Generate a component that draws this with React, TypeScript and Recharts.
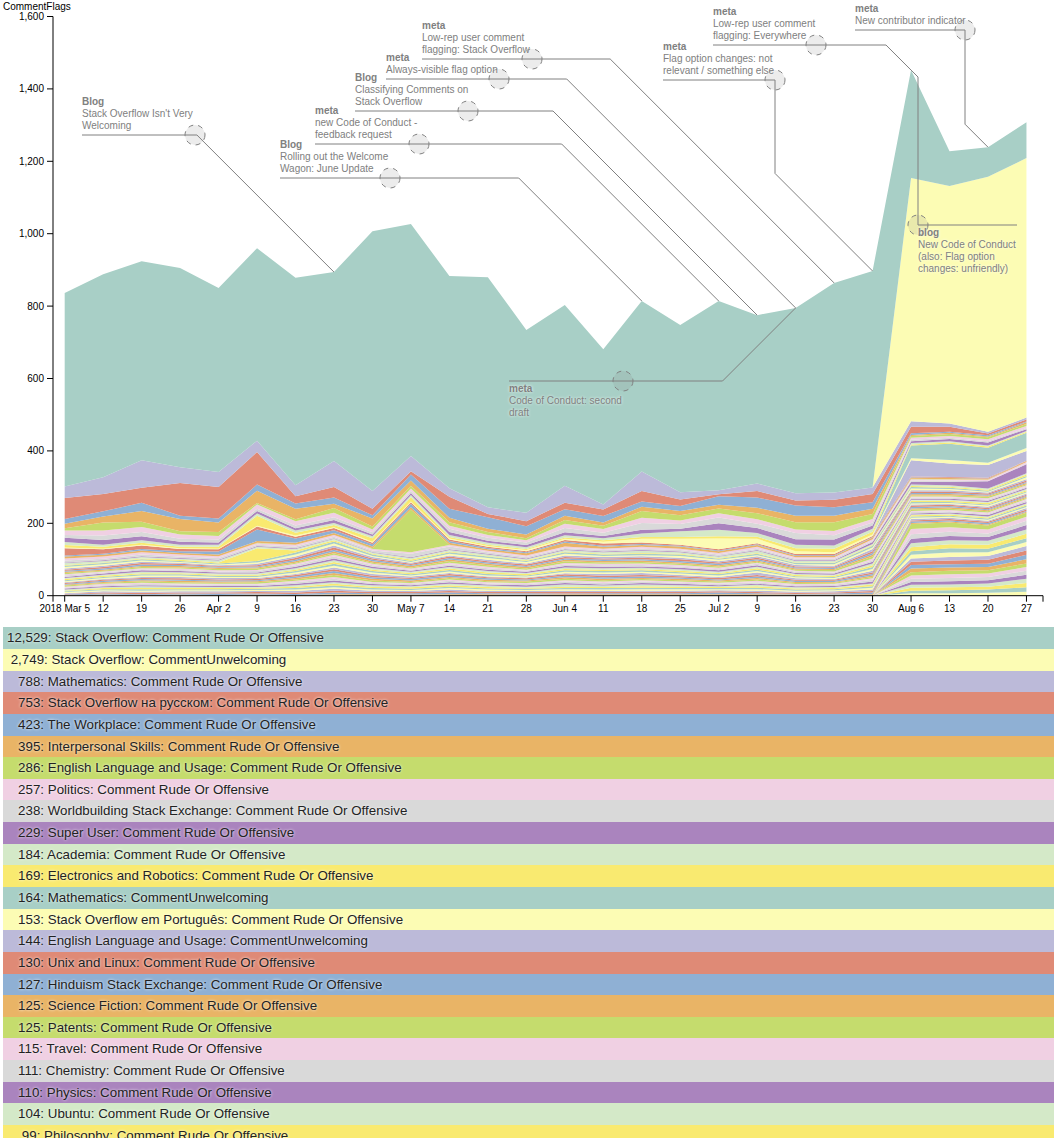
import React from 'react';
import { AreaChart, Area, XAxis, YAxis, ReferenceDot } from 'recharts';

// weekly comment flag counts, 2018-03-05 .. 2018-08-27 (26 weeks)
const weekLabels = ['2018 Mar 5', '12', '19', '26', 'Apr 2', '9', '16', '23', '30', 'May 7', '14', '21', '28',
  'Jun 4', '11', '18', '25', 'Jul 2', '9', '16', '23', '30', 'Aug 6', '13', '20', '27'];
const yTicks = [0, 200, 400, 600, 800, 1000, 1200, 1400, 1600];
const xTicks = [-0.304, 0, 1, 2, 3, 4, 5, 6, 7, 8, 9, 10, 11, 12, 13, 14, 15, 16, 17, 18, 19, 20, 21, 22, 23, 24, 25, 25.43];

const soRude = [534, 561, 550, 550, 508, 532, 573, 522, 718, 641, 586, 636, 505, 499, 429, 471, 462, 523, 465, 512, 579, 598, 298, 96, 82, 99];
const soUnwelcoming = [0, 0, 0, 0, 0, 0, 0, 0, 0, 0, 0, 0, 0, 0, 0, 0, 0, 0, 0, 0, 0, 0, 672, 656, 704, 717];
const mathRude = [32, 46, 76, 44, 42, 31, 30, 72, 49, 42, 24, 18, 23, 47, 14, 54, 20, 11, 21, 20, 20, 18, 15, 9, 5, 5];
const ruSoRude = [58, 48, 41, 90, 87, 90, 20, 29, 18, 9, 33, 9, 14, 18, 18, 29, 18, 5, 18, 14, 21, 23, 18, 14, 5, 6];
const workplaceRude = [13, 14, 23, 9, 11, 17, 15, 17, 9, 17, 25, 32, 23, 18, 18, 14, 14, 24, 28, 28, 23, 18, 5, 3, 3, 2];
const ipsRude = [13, 17, 30, 34, 26, 34, 29, 12, 22, 14, 12, 9, 10, 12, 9, 12, 12, 10, 15, 18, 18, 14, 3, 3, 2, 5];
const eluRude = [6, 22, 14, 9, 11, 4, 5, 13, 8, 8, 10, 8, 6, 10, 9, 19, 14, 13, 17, 20, 24, 14, 5, 6, 6, 5];
const politicsRude = [12, 14, 14, 12, 10, 12, 12, 12, 8, 6, 8, 8, 6, 12, 10, 14, 10, 12, 12, 10, 12, 10, 5, 5, 5, 6];
const worldbuildingRude = [8, 12, 12, 8, 8, 6, 8, 8, 6, 6, 9, 8, 7, 12, 9, 19, 13, 16, 12, 17, 12, 8, 4, 3, 4, 3];
const superUserRude = [12, 13, 11, 8, 6, 7, 6, 8, 5, 6, 8, 6, 6, 8, 6, 10, 7, 18, 14, 15, 16, 9, 5, 6, 8, 5];
const academiaRude = [8, 6, 7, 6, 6, 6, 6, 6, 5, 6, 6, 5, 5, 6, 6, 10, 16, 18, 10, 10, 9, 8, 4, 4, 3, 2];
const electronicsRude = [7, 5, 5, 4, 5, 28, 8, 6, 10, 12, 4, 4, 3, 4, 4, 5, 5, 6, 6, 8, 10, 8, 3, 3, 3, 3];
const mathUnwelcoming = [0, 0, 0, 0, 0, 0, 0, 0, 0, 0, 0, 0, 0, 0, 0, 0, 0, 0, 0, 0, 0, 0, 35, 45, 42, 42];
const ptSoRude = [2, 2, 2, 2, 2, 2, 3, 2, 3, 2, 3, 2, 3, 3, 5, 10, 16, 30, 12, 8, 5, 4, 6, 10, 6, 8];
const eluUnwelcoming = [0, 0, 0, 0, 0, 0, 0, 0, 0, 0, 0, 0, 0, 0, 0, 0, 0, 0, 0, 0, 0, 0, 45, 37, 35, 27];
const unixRude = [20, 12, 10, 6, 6, 8, 5, 6, 4, 4, 4, 3, 3, 4, 6, 4, 3, 3, 3, 3, 3, 3, 2, 2, 2, 1];
const hinduismRude = [3, 3, 4, 5, 8, 32, 12, 8, 6, 10, 5, 4, 3, 4, 3, 3, 2, 2, 2, 2, 2, 1, 1, 1, 1, 0];
const scifiRude = [5, 5, 5, 4, 5, 5, 5, 5, 5, 6, 5, 4, 6, 10, 5, 5, 6, 5, 5, 4, 4, 5, 3, 3, 2, 3];
const patentsRude = [0, 0, 0, 0, 0, 1, 0, 0, 2, 118, 1, 0, 0, 0, 0, 0, 0, 0, 0, 0, 0, 0, 1, 1, 1, 0];
const travelRude = [6, 6, 6, 6, 5, 4, 5, 5, 4, 4, 4, 4, 4, 4, 4, 5, 4, 4, 5, 4, 4, 4, 4, 3, 3, 4];
const chemistryRude = [5, 4, 5, 4, 5, 4, 5, 4, 4, 10, 8, 4, 4, 4, 4, 4, 4, 4, 4, 4, 4, 4, 3, 3, 1, 2];
const physicsRude = [2, 2, 2, 2, 2, 2, 2, 2, 2, 2, 2, 2, 2, 2, 2, 2, 2, 2, 2, 2, 2, 5, 8, 10, 20, 25];
const ubuntuRude = [5, 4, 4, 3, 5, 4, 4, 4, 3, 4, 4, 4, 3, 4, 4, 6, 4, 4, 6, 4, 4, 3, 4, 4, 3, 3];
const philosophyRude = [2, 2, 2, 3, 3, 35, 6, 3, 2, 4, 2, 2, 2, 2, 2, 2, 2, 2, 2, 2, 2, 2, 3, 3, 3, 4];

const namedSeries = [
  { name: 'Stack Overflow: Comment Rude Or Offensive', values: soRude },
  { name: 'Stack Overflow: CommentUnwelcoming', values: soUnwelcoming },
  { name: 'Mathematics: Comment Rude Or Offensive', values: mathRude },
  { name: 'Stack Overflow на русском: Comment Rude Or Offensive', values: ruSoRude },
  { name: 'The Workplace: Comment Rude Or Offensive', values: workplaceRude },
  { name: 'Interpersonal Skills: Comment Rude Or Offensive', values: ipsRude },
  { name: 'English Language and Usage: Comment Rude Or Offensive', values: eluRude },
  { name: 'Politics: Comment Rude Or Offensive', values: politicsRude },
  { name: 'Worldbuilding Stack Exchange: Comment Rude Or Offensive', values: worldbuildingRude },
  { name: 'Super User: Comment Rude Or Offensive', values: superUserRude },
  { name: 'Academia: Comment Rude Or Offensive', values: academiaRude },
  { name: 'Electronics and Robotics: Comment Rude Or Offensive', values: electronicsRude },
  { name: 'Mathematics: CommentUnwelcoming', values: mathUnwelcoming },
  { name: 'Stack Overflow em Português: Comment Rude Or Offensive', values: ptSoRude },
  { name: 'English Language and Usage: CommentUnwelcoming', values: eluUnwelcoming },
  { name: 'Unix and Linux: Comment Rude Or Offensive', values: unixRude },
  { name: 'Hinduism Stack Exchange: Comment Rude Or Offensive', values: hinduismRude },
  { name: 'Science Fiction: Comment Rude Or Offensive', values: scifiRude },
  { name: 'Patents: Comment Rude Or Offensive', values: patentsRude },
  { name: 'Travel: Comment Rude Or Offensive', values: travelRude },
  { name: 'Chemistry: Comment Rude Or Offensive', values: chemistryRude },
  { name: 'Physics: Comment Rude Or Offensive', values: physicsRude },
  { name: 'Ubuntu: Comment Rude Or Offensive', values: ubuntuRude },
  { name: 'Philosophy: Comment Rude Or Offensive', values: philosophyRude },
];

// long tail of smaller sites (thin bands at the bottom of the stack, below the visible legend)
const otherRudeSites = ['Code Review', 'Server Fault', 'Ask Different', 'Arqade', 'Cross Validated', 'Software Engineering',
  'Skeptics', 'Movies & TV', 'Christianity', 'Judaism', 'Islam', 'Biology', 'Law', 'Parenting', 'Personal Finance & Money',
  'Android Enthusiasts', 'Motor Vehicle Maintenance & Repair', 'Role-playing Games', 'Board & Card Games', 'The Great Outdoors',
  'Home Improvement', 'History', 'Linguistics', 'Music: Practice & Theory', 'Seasoned Advice', 'Graphic Design',
  'Database Administrators', 'Information Security', 'Game Development', 'Web Applications'];
const otherRudeRows = [
  [4, 3, 4, 3, 3, 4, 5, 6, 4, 3, 4, 4, 3, 4, 4, 4, 4, 3, 4, 3, 3, 5, 4, 3, 3, 4],
  [3, 3, 4, 4, 3, 3, 4, 5, 4, 3, 4, 3, 3, 4, 4, 3, 4, 4, 4, 3, 3, 5, 3, 3, 3, 3],
  [2, 3, 3, 3, 3, 3, 4, 5, 4, 4, 4, 4, 3, 4, 4, 4, 3, 3, 4, 3, 3, 4, 4, 4, 3, 3],
  [3, 3, 3, 3, 3, 3, 4, 5, 3, 3, 4, 3, 4, 4, 3, 4, 4, 3, 3, 3, 3, 5, 3, 3, 4, 4],
  [1, 3, 2, 3, 2, 3, 2, 4, 4, 3, 4, 4, 3, 4, 4, 4, 4, 4, 4, 3, 3, 4, 3, 3, 3, 3],
  [2, 2, 3, 4, 4, 3, 3, 5, 5, 4, 3, 2, 2, 3, 5, 6, 3, 3, 7, 4, 2, 5, 3, 2, 4, 3],
  [4, 4, 3, 2, 2, 4, 6, 5, 3, 2, 5, 5, 4, 5, 3, 3, 5, 4, 3, 2, 4, 4, 5, 4, 2, 5],
  [3, 2, 5, 4, 3, 2, 4, 4, 4, 3, 4, 4, 3, 6, 4, 5, 4, 2, 4, 3, 3, 3, 2, 3, 3, 3],
  [2, 3, 2, 3, 4, 3, 3, 5, 3, 4, 5, 3, 4, 2, 3, 3, 3, 5, 3, 2, 3, 5, 4, 3, 4, 2],
  [3, 4, 4, 3, 2, 4, 4, 6, 4, 3, 3, 4, 3, 4, 4, 4, 4, 3, 4, 4, 3, 6, 3, 4, 3, 4],
  [3, 4, 4, 3, 2, 3, 5, 6, 4, 3, 4, 3, 4, 4, 3, 4, 5, 4, 4, 3, 3, 5, 4, 3, 3, 4],
  [2, 3, 3, 4, 3, 3, 4, 6, 5, 4, 3, 4, 3, 4, 4, 3, 4, 3, 4, 3, 2, 4, 3, 4, 3, 3],
  [4, 2, 3, 3, 4, 4, 3, 4, 3, 3, 5, 4, 3, 5, 4, 4, 3, 4, 3, 3, 4, 5, 3, 3, 4, 3],
  [2, 3, 4, 3, 3, 3, 4, 5, 4, 3, 4, 3, 3, 3, 4, 4, 3, 3, 4, 3, 3, 4, 4, 3, 3, 4],
  [3, 3, 3, 3, 3, 3, 4, 4, 3, 3, 4, 4, 3, 4, 4, 4, 4, 3, 4, 3, 3, 5, 3, 3, 3, 3],
  [3, 3, 3, 4, 3, 3, 4, 5, 4, 3, 4, 4, 3, 4, 4, 4, 4, 4, 3, 3, 3, 5, 3, 3, 3, 4],
  [3, 2, 4, 3, 3, 4, 4, 5, 4, 3, 4, 3, 4, 4, 4, 3, 4, 3, 4, 3, 3, 4, 4, 3, 3, 3],
  [2, 3, 3, 3, 3, 3, 4, 5, 4, 4, 4, 4, 3, 4, 3, 4, 4, 3, 4, 3, 3, 5, 3, 3, 3, 3],
  [3, 4, 3, 3, 3, 3, 4, 5, 3, 3, 4, 3, 3, 4, 4, 4, 3, 3, 4, 3, 3, 4, 3, 4, 4, 4],
  [3, 3, 4, 3, 3, 3, 4, 5, 4, 3, 4, 4, 3, 4, 4, 4, 4, 4, 4, 3, 3, 5, 4, 3, 3, 3],
  [4, 3, 3, 3, 3, 4, 4, 5, 4, 3, 4, 4, 3, 4, 4, 4, 4, 3, 4, 3, 3, 4, 3, 3, 4, 3],
  [2, 3, 4, 3, 3, 3, 4, 5, 3, 3, 4, 3, 3, 4, 4, 4, 3, 4, 4, 3, 3, 5, 4, 3, 3, 4],
  [3, 3, 3, 4, 3, 3, 4, 5, 4, 4, 4, 4, 4, 4, 4, 4, 4, 3, 3, 3, 3, 5, 3, 4, 3, 3],
  [2, 3, 3, 3, 3, 3, 4, 5, 4, 3, 4, 3, 3, 4, 3, 3, 4, 3, 4, 3, 3, 4, 4, 3, 3, 4],
  [3, 3, 4, 3, 3, 3, 4, 5, 4, 3, 4, 4, 3, 4, 4, 4, 4, 4, 4, 3, 3, 5, 3, 3, 3, 3],
  [3, 3, 4, 3, 3, 3, 4, 5, 4, 3, 4, 4, 3, 4, 4, 4, 4, 3, 4, 3, 3, 5, 3, 3, 3, 4],
  [3, 3, 3, 4, 3, 3, 4, 5, 4, 3, 4, 3, 3, 4, 4, 4, 4, 4, 4, 3, 3, 4, 4, 3, 3, 3],
  [3, 3, 3, 3, 3, 3, 4, 5, 4, 4, 4, 4, 4, 4, 4, 3, 4, 3, 4, 3, 3, 5, 3, 3, 4, 3],
  [2, 3, 4, 3, 3, 4, 4, 5, 3, 3, 4, 3, 3, 4, 3, 4, 3, 3, 3, 3, 3, 4, 3, 4, 3, 4],
  [3, 3, 3, 3, 3, 3, 4, 5, 4, 3, 4, 4, 3, 4, 4, 4, 4, 4, 4, 3, 3, 5, 4, 3, 3, 3],
];
const otherUnwelcomingSites = ['Stack Overflow на русском', 'Super User', 'The Workplace', 'Interpersonal Skills', 'Politics',
  'Worldbuilding Stack Exchange', 'Academia', 'Physics', 'Travel', 'Science Fiction', 'Code Review', 'Server Fault',
  'Ask Different', 'Arqade', 'Cross Validated', 'Software Engineering', 'Unix and Linux', 'Hinduism Stack Exchange',
  'Chemistry', 'Ubuntu'];
const otherUnwelcomingRows = [
  [0, 0, 0, 0, 0, 0, 0, 0, 0, 0, 0, 0, 0, 0, 0, 0, 0, 0, 0, 0, 0, 0, 14, 12, 11, 11],
  [0, 0, 0, 0, 0, 0, 0, 0, 0, 0, 0, 0, 0, 0, 0, 0, 0, 0, 0, 0, 0, 0, 14, 13, 11, 11],
  [0, 0, 0, 0, 0, 0, 0, 0, 0, 0, 0, 0, 0, 0, 0, 0, 0, 0, 0, 0, 0, 0, 13, 12, 10, 12],
  [0, 0, 0, 0, 0, 0, 0, 0, 0, 0, 0, 0, 0, 0, 0, 0, 0, 0, 0, 0, 0, 0, 12, 12, 10, 12],
  [0, 0, 0, 0, 0, 0, 0, 0, 0, 0, 0, 0, 0, 0, 0, 0, 0, 0, 0, 0, 0, 0, 11, 11, 11, 12],
  [0, 0, 0, 0, 0, 0, 0, 0, 0, 0, 0, 0, 0, 0, 0, 0, 0, 0, 0, 0, 0, 0, 11, 11, 11, 12],
  [0, 0, 0, 0, 0, 0, 0, 0, 0, 0, 0, 0, 0, 0, 0, 0, 0, 0, 0, 0, 0, 0, 10, 12, 10, 11],
  [0, 0, 0, 0, 0, 0, 0, 0, 0, 0, 0, 0, 0, 0, 0, 0, 0, 0, 0, 0, 0, 0, 10, 12, 10, 11],
  [0, 0, 0, 0, 0, 0, 0, 0, 0, 0, 0, 0, 0, 0, 0, 0, 0, 0, 0, 0, 0, 0, 9, 10, 11, 12],
  [0, 0, 0, 0, 0, 0, 0, 0, 0, 0, 0, 0, 0, 0, 0, 0, 0, 0, 0, 0, 0, 0, 9, 10, 11, 12],
  [0, 0, 0, 0, 0, 0, 0, 0, 0, 0, 0, 0, 0, 0, 0, 0, 0, 0, 0, 0, 0, 0, 10, 9, 9, 12],
  [0, 0, 0, 0, 0, 0, 0, 0, 0, 0, 0, 0, 0, 0, 0, 0, 0, 0, 0, 0, 0, 0, 10, 9, 9, 12],
  [0, 0, 0, 0, 0, 0, 0, 0, 0, 0, 0, 0, 0, 0, 0, 0, 0, 0, 0, 0, 0, 0, 9, 10, 9, 10],
  [0, 0, 0, 0, 0, 0, 0, 0, 0, 0, 0, 0, 0, 0, 0, 0, 0, 0, 0, 0, 0, 0, 9, 10, 9, 10],
  [0, 0, 0, 0, 0, 0, 0, 0, 0, 0, 0, 0, 0, 0, 0, 0, 0, 0, 0, 0, 0, 0, 9, 9, 9, 11],
  [0, 0, 0, 0, 0, 0, 0, 0, 0, 0, 0, 0, 0, 0, 0, 0, 0, 0, 0, 0, 0, 0, 8, 9, 9, 11],
  [0, 0, 0, 0, 0, 0, 0, 0, 0, 0, 0, 0, 0, 0, 0, 0, 0, 0, 0, 0, 0, 0, 8, 8, 8, 12],
  [0, 0, 0, 0, 0, 0, 0, 0, 0, 0, 0, 0, 0, 0, 0, 0, 0, 0, 0, 0, 0, 0, 7, 8, 9, 12],
  [0, 0, 0, 0, 0, 0, 0, 0, 0, 0, 0, 0, 0, 0, 0, 0, 0, 0, 0, 0, 0, 0, 8, 8, 9, 12],
  [0, 0, 0, 0, 0, 0, 0, 0, 0, 0, 0, 0, 0, 0, 0, 0, 0, 0, 0, 0, 0, 0, 7, 7, 8, 11],
];

// annotations: week index of the event, title, text lines
const noteWeeks = [7, 15, 17, 18, 19, 20, 21, 19, 22, 22, 24];
const noteTitles = ['Blog', 'Blog', 'meta', 'Blog', 'meta', 'meta', 'meta', 'meta', 'meta', 'blog', 'meta'];
const noteLines = [
  ["Stack Overflow Isn't Very", 'Welcoming'],
  ['Rolling out the Welcome', 'Wagon: June Update'],
  ['new Code of Conduct -', 'feedback request'],
  ['Classifying Comments on', 'Stack Overflow'],
  ['Always-visible flag option'],
  ['Low-rep user comment', 'flagging: Stack Overflow'],
  ['Flag option changes: not', 'relevant / something else'],
  ['Code of Conduct: second', 'draft'],
  ['Low-rep user comment', 'flagging: Everywhere'],
  ['New Code of Conduct', '(also: Flag option', 'changes: unfriendly)'],
  ['New contributor indicator'],
];
const noteLayout = [
  { dx: -139, dy: -137, w: 113, side: 'left' },
  { dx: -252, dy: -123, w: 110, side: 'left' },
  { dx: -300, dy: -157, w: 104, side: 'left' },
  { dx: -289, dy: -204, w: 113, side: 'left' },
  { dx: -297, dy: -229, w: 113, side: 'left' },
  { dx: -302, dy: -224, w: 110, side: 'left' },
  { dx: -98, dy: -191, w: 112, side: 'left' },
  { dx: -173, dy: 73, w: 114, side: 'left' },
  { dx: -95, dy: -25, w: 103, side: 'left' },
  { dx: 7, dy: 155, w: 99, side: 'right' },
  { dx: -23, dy: -117, w: 110, side: 'left' },
];

const palette = ['#a8cfc6', '#fcfcb4', '#bcbad9', '#df8a76', '#8fb0d4', '#e9b466', '#c5dc6d', '#f0d0e3', '#d9d9d9', '#aa84be', '#d4e9c8', '#f9ea70'];
const FONT = '"Liberation Sans", Arial, Helvetica, sans-serif';
const VISIBLE_ROWS = 24;

const allSeries = [
  ...namedSeries,
  ...otherRudeRows.map((values, i) => ({ name: `${otherRudeSites[i]}: Comment Rude Or Offensive`, values })),
  ...otherUnwelcomingRows.map((values, i) => ({ name: `${otherUnwelcomingSites[i]}: CommentUnwelcoming`, values })),
]
  .map(s => ({ ...s, total: s.values.reduce((a, b) => a + b, 0) }))
  .sort((a, b) => b.total - a.total)
  .map((s, i) => ({ ...s, key: `s${i}`, color: palette[i % palette.length] }));

const chartData = weekLabels.map((_, i) => {
  const row: Record<string, number> = { x: i };
  allSeries.forEach(s => { row[s.key] = s.values[i] ?? 0; });
  return row;
});

const weekTotals = weekLabels.map((_, i) => allSeries.reduce((a, s) => a + (s.values[i] ?? 0), 0));

const Callout = (props: any) => {
  const { cx, cy, idx } = props;
  if (cx == null || cy == null) return null;
  const lay = noteLayout[idx];
  const nx = Math.round(cx + lay.dx);
  const ny = Math.round(cy + lay.dy);
  let ex: number, ey: number;
  if (Math.abs(nx - cx) >= Math.abs(ny - cy)) {
    ey = ny;
    ex = cx + Math.sign(nx - cx) * Math.abs(ny - cy);
  } else {
    ex = nx;
    ey = cy + Math.sign(ny - cy) * Math.abs(nx - cx);
  }
  const x0 = lay.side === 'left' ? nx - lay.w : nx;
  const x1 = lay.side === 'left' ? nx : nx + lay.w;
  const lines = [noteTitles[idx], ...noteLines[idx]];
  const n = lines.length;
  const above = lay.dy < 0;
  return (
    <g>
      <path d={`M${cx},${cy}L${ex},${ey}`} stroke="gray" strokeWidth={1} fill="none" />
      <path d={`M${ex},${ey}L${nx},${ny}`} stroke="gray" strokeWidth={1} fill="none" />
      <path d={`M${x0},${ny}L${x1},${ny}`} stroke="gray" strokeWidth={1} fill="none" />
      <circle cx={nx} cy={ny} r={10} fill="rgba(128,128,128,0.15)" stroke="gray" strokeDasharray="5 5" strokeWidth={1} />
      {lines.map((t, k) => (
        <text
          key={k}
          x={x0}
          y={above ? ny - 6 - 12 * (n - 1 - k) : ny + 11 + 12 * k}
          fontSize={10}
          fontFamily={FONT}
          fontWeight={k === 0 ? 'bold' : 'normal'}
          fill="gray"
          style={{ textShadow: '0 0 3px #fff' }}
        >
          {t}
        </text>
      ))}
    </g>
  );
};

export default function App() {
  const tickStyle = { fontSize: 10, fill: '#000', fontFamily: FONT };
  return (
    <div style={{ position: 'absolute', left: 0, top: 0, width: 1057, fontFamily: FONT }}>
      <div style={{ position: 'absolute', left: 3, top: 0.5, fontSize: 10, lineHeight: '12px', color: '#000', zIndex: 2 }}>
        CommentFlags
      </div>
      <AreaChart width={1057} height={622} data={chartData} margin={{ top: 16.5, right: 14, bottom: 0, left: 0 }}>
        <XAxis
          dataKey="x"
          type="number"
          domain={[-0.304, 25.43]}
          ticks={xTicks}
          interval={0}
          height={26.3}
          tickSize={6}
          tickMargin={3}
          tick={tickStyle}
          axisLine={{ stroke: '#000' }}
          tickLine={{ stroke: '#000' }}
          tickFormatter={(v: number) => (Number.isInteger(v) ? weekLabels[v] : '')}
          allowDataOverflow
        />
        <YAxis
          domain={[0, 1600]}
          ticks={yTicks}
          interval={0}
          width={53}
          tickSize={6}
          tickMargin={3}
          tick={tickStyle}
          axisLine={{ stroke: '#000' }}
          tickLine={{ stroke: '#000' }}
          tickFormatter={(v: number) => v.toLocaleString('en-US')}
          allowDataOverflow
        />
        {[...allSeries].reverse().map(s => (
          <Area
            key={s.key}
            type="linear"
            dataKey={s.key}
            name={s.name}
            stackId="flags"
            stroke="none"
            fill={s.color}
            fillOpacity={1}
            dot={false}
            activeDot={false}
            isAnimationActive={false}
          />
        ))}
        {noteWeeks.map((w, i) => (
          <ReferenceDot
            key={`note${i}`}
            x={w}
            y={weekTotals[w]}
            r={0}
            shape={(p: any) => <Callout {...p} idx={i} />}
          />
        ))}
      </AreaChart>
      <div style={{ position: 'absolute', left: 3, top: 627.3, width: 1051 }}>
        {allSeries.slice(0, VISIBLE_ROWS).map(s => (
          <div
            key={s.key}
            style={{
              height: 21.65,
              lineHeight: '21.65px',
              background: s.color,
              paddingLeft: 4,
              whiteSpace: 'pre',
              fontSize: 13.33,
              color: '#222',
              textShadow: '0 0 3px #fff',
              overflow: 'hidden',
            }}
          >
            {`${s.total.toLocaleString('en-US').padStart(6, ' ')}: ${s.name}`}
          </div>
        ))}
      </div>
    </div>
  );
}
